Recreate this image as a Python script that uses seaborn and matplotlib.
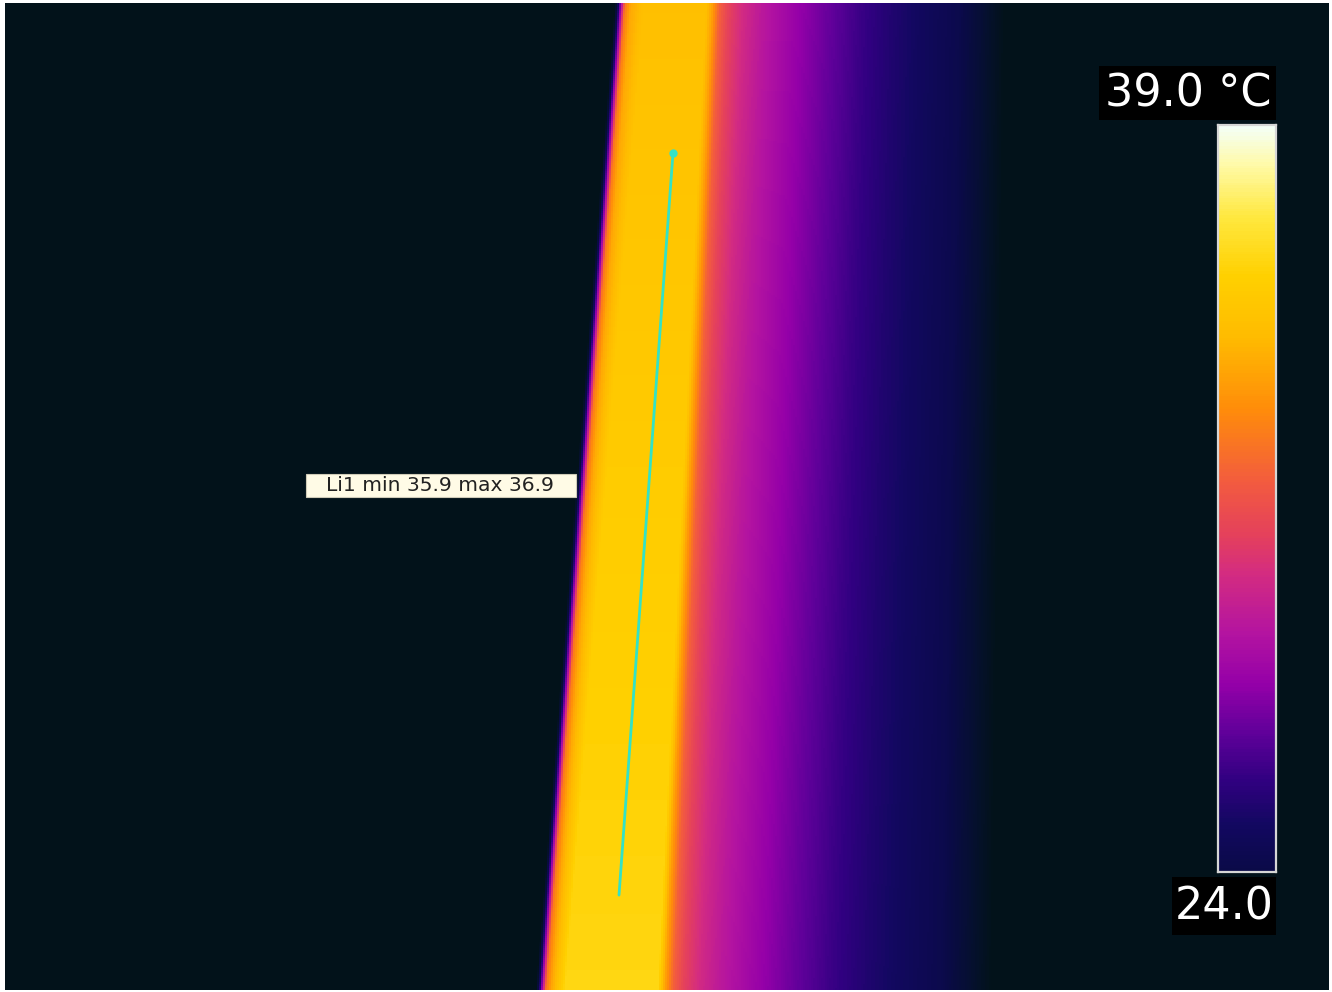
import numpy as np
import matplotlib
matplotlib.use("Agg")
import matplotlib.pyplot as plt
from matplotlib.colors import LinearSegmentedColormap
from matplotlib.patches import Rectangle
import seaborn as sns

# ---------------- data ----------------
# temperature scale of the camera palette (deg C -> colour)
SCALE_TEMPS = [22.0, 23.0, 24.0, 24.9, 25.8, 26.7, 27.75, 28.8, 30.0, 30.75,
               31.8, 33.3, 34.8, 36.0, 37.2, 38.25, 39.0]
SCALE_COLORS = ["#02121a", "#05102e", "#0a0a48", "#120860", "#300080", "#5c0098",
                "#9400a8", "#b414a0", "#d42c80", "#e4405c", "#f25a40", "#ff8c0a",
                "#ffbc00", "#ffd000", "#ffe840", "#fffaa8", "#f4fff6"]
SCALE_MIN = 24.0
SCALE_MAX = 39.0

# warm band geometry (image pixel rows / columns)
EDGE_ROWS = [3, 990]
LEFT_EDGE_X = [622, 543]        # left (sharp) edge of the warm band
YELLOW_RIGHT_X = [706, 658]     # right end of the yellow core
COOL_END_X = [1005, 992]        # where the warm gradient reaches background

BAND_ROWS = [3, 480, 990]
BAND_TEMPS = [35.0, 35.7, 36.3]

# temperature profile across the left edge (offset px from edge)
LEFT_OFFSETS = [-7, -4, -1, 3, 9, 22]
LEFT_TEMPS = [22.0, 24.5, 28.0, 32.6, 34.2]          # + band temperature

# temperature profile right of the yellow core (fraction of core->end distance)
RIGHT_FRACS = [0.0, 0.02, 0.045, 0.077, 0.13, 0.19, 0.29, 0.40, 0.52, 0.63,
               0.74, 0.845, 0.93, 1.0]
RIGHT_TEMPS = [34.0, 32.0, 30.8, 29.8, 29.0, 28.0, 27.0, 26.0, 25.3, 24.7,
               24.2, 23.2, 22.0]                      # after the band temperature

# measurement line Li1
LINE_X = [673, 619]
LINE_Y = [153, 896]
LINE_LABEL = "Li1 min 35.9 max 36.9"
TOP_LABEL = "39.0 °C"
BOTTOM_LABEL = "24.0"

# ---------------- build the thermal field ----------------
W, H = 1332, 992
IMG_X0, IMG_X1 = 5, 1329
IMG_Y0, IMG_Y1 = 3, 990
STEP = 2
ncols = (IMG_X1 - IMG_X0) // STEP
nrows = int(np.ceil((IMG_Y1 - IMG_Y0) / STEP))
xs = IMG_X0 + np.arange(ncols) * STEP + STEP / 2
ys = IMG_Y0 + np.arange(nrows) * STEP + STEP / 2

field = np.empty((nrows, ncols))
for i, y in enumerate(ys):
    xl = np.interp(y, EDGE_ROWS, LEFT_EDGE_X)
    xr = np.interp(y, EDGE_ROWS, YELLOW_RIGHT_X)
    xe = np.interp(y, EDGE_ROWS, COOL_END_X)
    band = np.interp(y, BAND_ROWS, BAND_TEMPS)
    left = np.interp(xs - xl, LEFT_OFFSETS, LEFT_TEMPS + [band])
    right = np.interp((xs - xr) / (xe - xr), RIGHT_FRACS, [band] + RIGHT_TEMPS)
    field[i] = np.where(xs < xr, left, right)

pos = [(t - SCALE_TEMPS[0]) / (SCALE_TEMPS[-1] - SCALE_TEMPS[0]) for t in SCALE_TEMPS]
cmap = LinearSegmentedColormap.from_list("iron", list(zip(pos, SCALE_COLORS)))

# ---------------- draw ----------------
sns.set_theme(style="white")
plt.rcParams["font.family"] = ["DejaVu Sans"]

fig = plt.figure(figsize=(W / 100, H / 100), dpi=100, facecolor="white")

def fx(px):
    return px / W

def fy(py):
    return 1 - py / H

ax = fig.add_axes([fx(IMG_X0), fy(IMG_Y1), (IMG_X1 - IMG_X0) / W, (IMG_Y1 - IMG_Y0) / H])
sns.heatmap(field, ax=ax, cmap=cmap, vmin=SCALE_TEMPS[0], vmax=SCALE_TEMPS[-1],
            cbar=False, xticklabels=False, yticklabels=False, rasterized=True)
ax.set_xlabel("")
ax.set_ylabel("")

def dx(px):
    return (px - IMG_X0) / STEP

def dy(py):
    return (py - IMG_Y0) / STEP

ax.plot([dx(v) for v in LINE_X], [dy(v) for v in LINE_Y], color="#34e2c6", lw=2.0,
        solid_capstyle="round")
ax.plot([dx(LINE_X[0])], [dy(LINE_Y[0])], "o", color="#34e2c6", ms=6, mec="none")

# label box
ax.add_patch(Rectangle((dx(306), dy(474)), (576 - 306) / STEP, (498 - 474) / STEP,
                       facecolor="#fffbe6", edgecolor="#cfcbb8", lw=0.8, zorder=4))
ax.text(dx(440), dy(486), LINE_LABEL, ha="center", va="center", fontsize=14.6,
        color="#222222", zorder=5)

# colour scale bar
cax = fig.add_axes([fx(1218), fy(872), 58 / W, 747 / H])
scale_vals = np.linspace(SCALE_MAX, SCALE_MIN, 400).reshape(-1, 1)
sns.heatmap(scale_vals, ax=cax, cmap=cmap, vmin=SCALE_TEMPS[0], vmax=SCALE_TEMPS[-1],
            cbar=False, xticklabels=False, yticklabels=False, rasterized=True)
for s in cax.spines.values():
    s.set_visible(True)
    s.set_color("#d6d6d6")
    s.set_linewidth(1.6)

# scale labels in black boxes
fig.patches.append(Rectangle((fx(1099), fy(120)), 177 / W, 54 / H,
                             transform=fig.transFigure, facecolor="black",
                             edgecolor="none", zorder=5))
fig.text(fx(1188), fy(94), TOP_LABEL, ha="center", va="center", fontsize=32,
         color="white", zorder=6)
fig.patches.append(Rectangle((fx(1172), fy(935)), 104 / W, 58 / H,
                             transform=fig.transFigure, facecolor="black",
                             edgecolor="none", zorder=5))
fig.text(fx(1224), fy(907), BOTTOM_LABEL, ha="center", va="center", fontsize=32,
         color="white", zorder=6)

fig.savefig("out.png", dpi=100, facecolor="white")
